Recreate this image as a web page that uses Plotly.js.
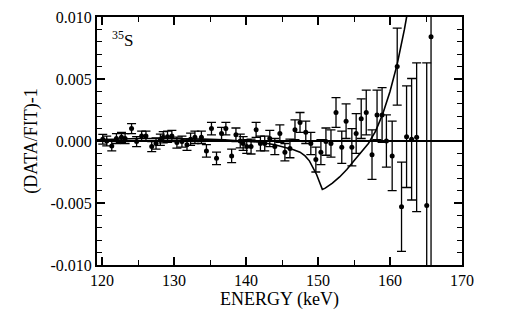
<!DOCTYPE html>
<html>
<head>
<meta charset="utf-8">
<script src="https://cdn.plot.ly/plotly-3.0.1.min.js"></script>
<style>html,body{margin:0;padding:0;background:#fff;}#chart{width:517px;height:312px;}</style>
</head>
<body>
<div id="chart"></div>
<script>
// Data points: energy (keV), residual (DATA/FIT)-1, error
const energy = [120.1,120.65,121.35,122.0,122.7,123.2,124.1,124.8,125.5,126.1,126.9,127.5,128.1,128.5,129.1,129.7,130.4,131.1,131.8,132.3,132.9,133.8,134.5,135.2,135.9,136.6,137.2,138.0,138.6,139.2,139.6,140.1,140.7,141.4,142.0,142.6,143.3,144.0,144.7,145.4,146.1,146.8,147.5,148.3,149.0,149.7,150.4,151.1,151.8,152.5,153.3,153.9,154.7,155.3,156.0,156.7,157.5,158.2,158.9,159.5,160.3,161.0,161.6,162.3,163.0,163.7,165.1,165.7];
const residual = [0.00014,0.0000,-0.0004,0.0002,0.0003,0.0002,0.0010,-0.00005,0.0004,0.0004,-0.00045,-0.0002,0.0001,0.0003,0.00035,0.0004,-0.00013,-0.00005,-0.0003,0.00014,0.0003,0.0003,-0.0008,0.0010,-0.0014,0.0006,0.0010,-0.0012,0.0005,0.0000,-0.0002,-0.00045,-0.00045,0.0009,-0.0002,-0.0002,0.0002,-0.00045,0.0006,-0.0009,-0.0006,0.0009,0.0015,0.0007,-0.0002,-0.0015,-0.0009,-0.00005,-0.0002,0.0023,-0.0005,0.0016,-0.0005,0.0006,0.0018,0.0023,-0.0011,0.0021,0.0021,0.0000,-0.0012,0.0060,-0.0053,0.00035,0.00014,0.0003,-0.0052,0.0084];
const errors = [0.0004,0.0004,0.0004,0.0004,0.0004,0.0004,0.0004,0.0004,0.0004,0.0004,0.0004,0.00045,0.00045,0.00045,0.00045,0.00045,0.00045,0.00045,0.00045,0.0005,0.0005,0.0005,0.0005,0.0005,0.0005,0.0005,0.0005,0.00055,0.00055,0.00055,0.00055,0.00055,0.0006,0.0006,0.0006,0.0006,0.00065,0.00065,0.0007,0.0007,0.00075,0.0008,0.0008,0.0009,0.0009,0.001,0.001,0.0011,0.0011,0.0012,0.0013,0.0014,0.0015,0.0016,0.0016,0.0018,0.002,0.002,0.0022,0.0021,0.0028,0.0031,0.0036,0.0041,0.0049,0.006,0.0115,0.02];

// Fit curve
const fitEnergy = [119.3,122,125,128,131,134,137,140,142,144,145.5,146.6,147.5,148.2,148.8,149.3,149.8,150.2,150.6,151,152,153,154,155,156,157,158,159,160,161,162,162.4];
const fitValue = [0.0001,0.00015,0.0002,0.0002,0.0002,0.00015,0.0001,0.0,-0.0001,-0.0003,-0.0005,-0.0007,-0.0009,-0.0012,-0.0016,-0.0021,-0.0027,-0.0033,-0.0039,-0.0038,-0.0034,-0.0029,-0.0023,-0.0016,-0.0009,-0.0002,0.0008,0.0022,0.0040,0.0062,0.0090,0.0103];

const xTickVals = [120,130,140,150,160,170];
const xTickText = ['120','130','140','150','160','170'];
const yTickVals = [-0.010,-0.005,0,0.005,0.010];
const yTickText = ['-0.010','-0.005','0.000','0.005','0.010'];

const serif = 'Liberation Serif, Times New Roman, serif';

const traces = [
  {
    x: fitEnergy, y: fitValue, type: 'scatter', mode: 'lines',
    line: {color: '#000', width: 1.6}, hoverinfo: 'skip', showlegend: false
  },
  {
    x: energy, y: residual, type: 'scatter', mode: 'markers',
    marker: {color: '#000', size: 5},
    error_y: {type: 'data', array: errors, visible: true, color: '#000', thickness: 1.3, width: 4.5},
    showlegend: false
  }
];

const layout = {
  width: 517, height: 312,
  margin: {l: 97, r: 55, t: 17, b: 47, pad: 0},
  paper_bgcolor: '#fff', plot_bgcolor: '#fff',
  font: {family: serif, color: '#000', size: 16},
  showlegend: false,
  xaxis: {
    range: [119.3, 170], tickvals: xTickVals, ticktext: xTickText,
    ticks: 'inside', ticklen: 8, tickwidth: 1.2, tickcolor: '#000',
    minor: {dtick: 5, tick0: 120, ticks: 'inside', ticklen: 5, tickwidth: 1, tickcolor: '#000'},
    showline: true, linewidth: 2, linecolor: '#000', mirror: 'ticks',
    showgrid: false, zeroline: false,
    tickfont: {family: serif, size: 16},
    title: {text: 'ENERGY (keV)', font: {family: serif, size: 18}, standoff: 0}
  },
  yaxis: {
    range: [-0.010, 0.010], tickvals: yTickVals, ticktext: yTickText,
    ticks: 'inside', ticklen: 8, tickwidth: 1.2, tickcolor: '#000',
    minor: {dtick: 0.001, tick0: 0, ticks: 'inside', ticklen: 5, tickwidth: 1, tickcolor: '#000'},
    showline: true, linewidth: 2, linecolor: '#000', mirror: 'ticks',
    showgrid: false, zeroline: true, zerolinecolor: '#000', zerolinewidth: 1.2,
    tickfont: {family: serif, size: 16},
    title: {text: '(DATA/FIT)-1', font: {family: serif, size: 18}, standoff: 8}
  },
  annotations: [
    {text: '<sup>35</sup>S', xref: 'paper', yref: 'paper', x: 0.035, y: 0.91,
     xanchor: 'left', yanchor: 'middle', showarrow: false, font: {family: serif, size: 17}}
  ]
};

Plotly.newPlot('chart', traces, layout, {displayModeBar: false, staticPlot: true});
</script>
</body>
</html>
